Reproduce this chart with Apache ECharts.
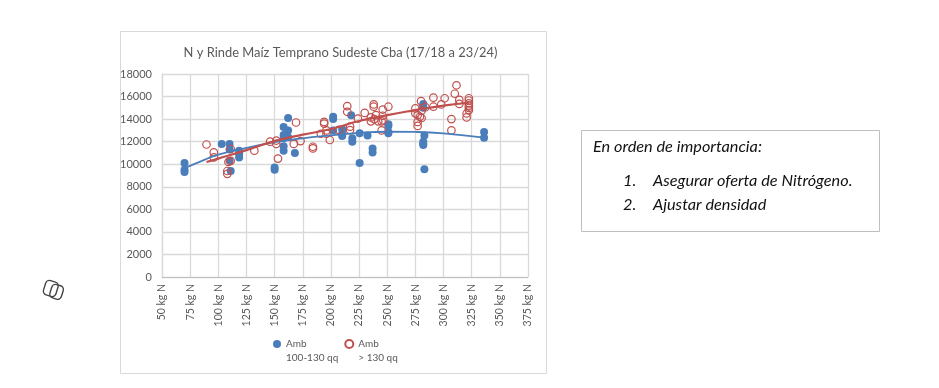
<!DOCTYPE html>
<html><head><meta charset="utf-8">
<style>html,body{margin:0;padding:0;background:#fff}#c{width:939px;height:388px}</style>
<script src="https://cdn.jsdelivr.net/npm/echarts@6/dist/echarts.min.js"></script>
</head><body><div id="c"></div>
<script>
const titleText = 'N y Rinde Maíz Temprano Sudeste Cba (17/18 a 23/24)';
const nameLow = 'Amb\n100-130 qq';
const nameHigh = 'Amb\n> 130 qq';
const lowPoints = [
[70,10100],[70,9500],[70,9300],[103,11800],[110,11800],[110,11300],[110,10300],[111,9400],
[118.5,11200],[118.5,10900],[118.5,10600],[150,9700],[150,9500],[158,13300],[162,14100],[162,13000],
[158,12600],[158,12300],[160,12500],[162,12400],[158,11600],[158,11200],[168,11000],
[202,14200],[202,14000],[202,13000],[210,13100],[210,12700],[210,12500],[218,14350],[219,12300],[219,12000],
[225.5,12750],[225.5,10100],[232.5,12550],[237,11400],[237,11050],[251,13550],[251,13400],[251,12850],[251,12750],
[282,15350],[282,15100],[282,15000],[283,12550],[282,12000],[282,11800],[282,11700],[283,9550],[336,12850],[336,12350]
];
const highPoints = [
[89.5,11750],[96,11050],[96,10600],[108,9400],[108,9150],[109,10200],[111,10300],[111,11350],[132,11200],
[146,12000],[151.5,12100],[151.5,11800],[153,10500],[169,13700],[167,11800],[173,12050],[184,11550],[184,11400],
[191,12700],[194,13750],[194,13600],[196,13000],[196,12700],[199,12150],[207,13050],[217,13330],[217,13030],
[214.5,15150],[214.5,14650],[224,14050],[230,14550],[235.5,14150],[235.5,13800],[238,15300],[238,15100],[240,14350],
[238.5,14000],[242,13800],[245,13800],[246.5,13900],[246,14300],[246,14850],[245,13000],[251,15100],
[275,14950],[275,14500],[277,14350],[279,14200],[280.5,14100],[277,13750],[277,13400],[280,15600],[280.5,14750],[284,15050],
[291,15900],[291,15100],[298,15300],[301,15850],[307,14000],[307,13000],[310,16250],[311.5,17000],[314,15700],[314,15350],
[320.5,14500],[320.5,14150],[322.5,15850],[322.5,15650],[322.5,15400],[322.5,15200],[322.5,15000],[322.5,14800]
];
const lowTrend = [[70,9650],[85,10280],[100,10850],[125,11450],[150,11950],[175,12300],[200,12550],[225,12780],[250,12880],[275,12860],[300,12740],[336,12350]];
const highTrend = [[89.5,10200],[100,10500],[125,11250],[150,12050],[175,12620],[200,13120],[225,13830],[250,14360],[275,14800],[300,15200],[322.5,15450]];

const blue = '#4A7EBB', red = '#C0504D', grey = '#595959', gridC = '#D9D9D9';
const legendIcon = 'path://M0,4A4,4 0 1 1 8,4A4,4 0 1 1 0,4ZM4,22L4,22';
const chart = echarts.init(document.getElementById('c'), null, {renderer:'canvas'});
const font = 'Lato, "Open Sans", sans-serif';
chart.setOption({
  animation:false,
  textStyle:{fontFamily:font},
  title:{text:titleText,left:335.5,top:41,textAlign:'center',textStyle:{fontFamily:font,fontSize:12.9,fontWeight:'normal',color:grey}},
  grid:{left:162,right:411,top:74,bottom:111},
  xAxis:{type:'value',min:50,max:375,interval:25,
    axisLine:{lineStyle:{color:'#BFBFBF',width:1}},axisTick:{show:false},
    splitLine:{show:true,lineStyle:{color:gridC,width:1.3}},
    axisLabel:{rotate:90,formatter:'{value} kg N',color:grey,fontSize:10.5,margin:7,showMaxLabel:true,showMinLabel:true}},
  yAxis:{type:'value',min:0,max:18000,interval:2000,
    axisLine:{show:true,lineStyle:{color:gridC,width:1.3}},axisTick:{show:false},
    splitLine:{show:true,lineStyle:{color:gridC,width:1.3}},
    axisLabel:{color:grey,fontSize:11,margin:10,formatter:v=>String(v)}},
  legend:{left:268,top:332,itemWidth:8,itemHeight:22,itemGap:6,
    data:[{name:nameLow,icon:legendIcon},{name:nameHigh,icon:legendIcon}],
    textStyle:{color:grey,fontSize:10,fontFamily:font,lineHeight:14}},
  series:[
    {name:nameLow,type:'scatter',data:lowPoints,symbol:'circle',symbolSize:8,z:3,itemStyle:{color:blue,opacity:1}},
    {name:nameHigh,type:'scatter',data:highPoints,symbol:'circle',symbolSize:7.5,z:4,
      itemStyle:{color:'rgba(255,255,255,0)',borderColor:red,borderWidth:1.2,opacity:1}},
    {type:'line',data:lowTrend,smooth:true,showSymbol:false,silent:true,z:5,lineStyle:{color:blue,width:1.8}},
    {type:'line',data:highTrend,smooth:true,showSymbol:false,silent:true,z:6,lineStyle:{color:red,width:2.2}}
  ],
  graphic:[
    {type:'rect',shape:{x:120.5,y:31.5,width:426,height:342},style:{fill:'none',stroke:'#D9D9D9',lineWidth:1},z:-1},
    {type:'rect',shape:{x:581.5,y:130.5,width:298,height:101},style:{fill:'#fff',stroke:'#BFBFBF',lineWidth:1}},
    {type:'text',x:593,y:138.5,style:{text:'En orden de importancia:',font:'italic 16.3px '+font,fill:'#111'}},
    {type:'text',x:623,y:172.5,style:{text:'1.',font:'italic 16.3px '+font,fill:'#111'}},
    {type:'text',x:653,y:172.5,style:{text:'Asegurar oferta de Nitrógeno.',font:'italic 16.3px '+font,fill:'#111'}},
    {type:'text',x:623,y:196.5,style:{text:'2.',font:'italic 16.3px '+font,fill:'#111'}},
    {type:'text',x:653,y:196.5,style:{text:'Ajustar densidad',font:'italic 16.3px '+font,fill:'#111'}},
    {type:'group',x:54,y:290,rotation:-0.3,children:[
      {type:'rect',shape:{x:-10,y:-8,width:13,height:15,r:4},style:{fill:'none',stroke:'#444',lineWidth:1.4}},
      {type:'rect',shape:{x:-3,y:-6,width:12,height:14,r:4},style:{fill:'none',stroke:'#444',lineWidth:1.4}}
    ]}
  ]
});
</script></body></html>
